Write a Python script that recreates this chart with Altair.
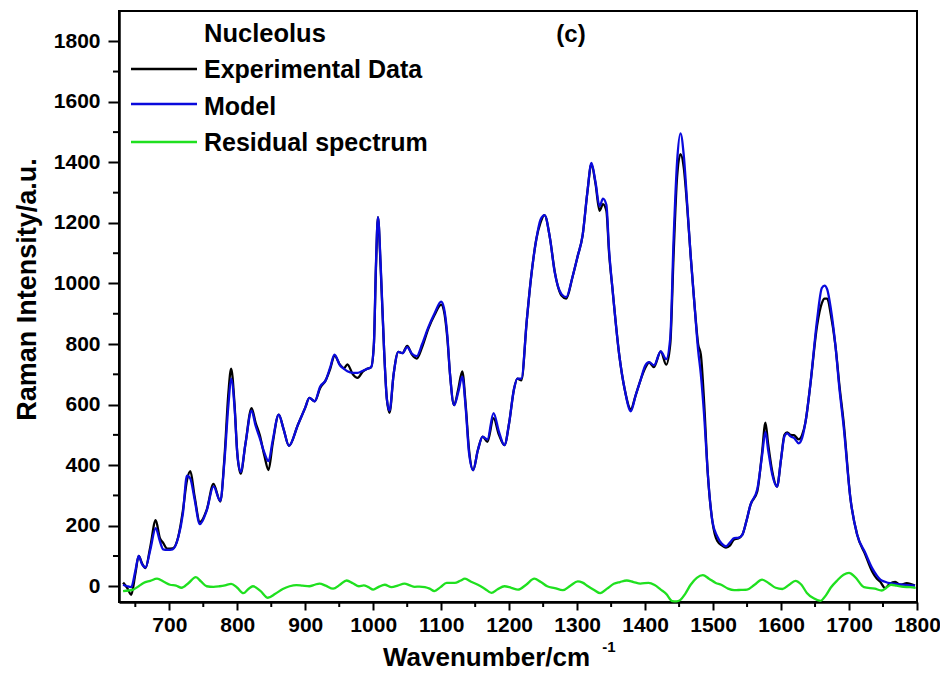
import altair as alt
import pandas as pd

# ---- data ----
wn = [632, 638, 644, 650, 655, 660, 665, 672, 680, 686, 691, 697, 705, 713, 720, 726, 731, 737, 745,
      755, 765, 775, 781, 787, 791, 796, 800, 805, 812, 821, 827, 833, 840, 846, 852, 861, 868, 876,
      889, 900, 906, 914, 922, 930, 937, 943, 951, 957, 962, 970, 977, 985, 990, 997, 1001, 1004,
      1007, 1011, 1016, 1020, 1024, 1030, 1037, 1043, 1050, 1057, 1064, 1072, 1081, 1090, 1100,
      1104, 1109, 1113, 1119, 1125, 1131, 1136, 1141, 1147, 1154, 1161, 1168, 1177, 1185, 1193,
      1200, 1207, 1212, 1218, 1226, 1232, 1240, 1246, 1252, 1260, 1267, 1277, 1284, 1293, 1301,
      1308, 1315, 1321, 1327, 1333, 1338, 1343, 1347, 1352, 1362, 1370, 1379, 1386, 1394, 1400,
      1406, 1413, 1423, 1431, 1437, 1442, 1447, 1452, 1457, 1462, 1467, 1473, 1478, 1482, 1487,
      1492, 1499, 1506, 1513, 1519, 1525, 1531, 1537, 1543, 1549, 1555, 1565, 1572, 1577, 1581,
      1587, 1594, 1600, 1605, 1609, 1614, 1619, 1626, 1631, 1636, 1643, 1653, 1660, 1664, 1668,
      1673, 1680, 1686, 1692, 1702, 1712, 1724, 1734, 1741, 1746, 1753, 1760, 1768, 1775, 1785, 1797]

experimental = [12, -5, -28, 40, 100, 75, 60, 130, 218, 160, 143, 124, 125, 162, 250, 350, 380, 300, 212,
                252, 338, 280, 420, 640, 719, 600, 440, 372, 470, 588, 540, 500, 430, 384, 470, 567, 520, 464,
                532, 590, 622, 611, 655, 680, 720, 762, 732, 720, 733, 700, 688, 710, 717, 724, 800, 1050,
                1219, 1050, 780, 620, 573, 700, 774, 770, 794, 765, 752, 790, 850, 895, 930,
                910, 820, 700, 598, 650, 710, 600, 450, 384, 450, 494, 477, 555, 500, 466,
                540, 650, 686, 680, 880, 1015, 1147, 1200, 1226, 1150, 1040, 960, 950, 1020, 1092,
                1158, 1300, 1394, 1330, 1240, 1262, 1240, 1100, 982, 763, 650, 585, 630, 686, 720,
                739, 724, 776, 732, 800, 1100, 1350, 1427, 1380, 1250, 1092, 920, 800, 765, 600,
                379, 214, 150, 135, 128, 135, 155, 158, 170, 215, 269, 313, 440, 540, 470,
                380, 329, 420, 500, 508, 500, 499, 485, 500, 543, 664, 861, 935, 950, 950,
                900, 795, 660, 543, 291, 170, 104, 49, 25, 15, -6, 8, 14, 5, 10, 2]

model = [5, 0, -3, 50, 100, 72, 62, 120, 192, 150, 122, 120, 122, 160, 240, 365, 355, 290, 205,
         250, 330, 282, 410, 600, 686, 590, 440, 378, 470, 580, 530, 490, 440, 413, 480, 567, 520, 464,
         532, 590, 622, 611, 660, 680, 725, 765, 730, 718, 710, 705, 705, 712, 717, 724, 800, 1060,
         1219, 1060, 780, 620, 580, 700, 774, 770, 790, 768, 760, 800, 855, 900, 940,
         920, 830, 700, 598, 640, 692, 590, 440, 384, 450, 494, 485, 572, 510, 466,
         540, 650, 686, 686, 880, 1015, 1147, 1210, 1226, 1150, 1037, 965, 955, 1020, 1092,
         1158, 1300, 1398, 1335, 1255, 1280, 1260, 1110, 982, 763, 650, 578, 630, 686, 728,
         740, 730, 776, 750, 820, 1150, 1400, 1496, 1420, 1260, 1092, 920, 780, 700, 560,
         379, 214, 165, 140, 132, 145, 159, 160, 170, 215, 269, 320, 430, 510, 450,
         370, 329, 420, 495, 505, 495, 490, 472, 490, 543, 664, 880, 985, 993, 980,
         920, 795, 650, 530, 291, 170, 110, 60, 35, 22, 15, 10, 8, 6, 4, 2]

res_wn = [632, 640, 647, 655, 662, 672, 682, 692, 701, 710, 718, 728, 739, 747, 755, 765, 774, 782, 791,
          800, 809, 816, 823, 834, 845, 856, 867, 877, 887, 896, 906, 914, 921, 930, 941, 951, 961, 970,
          979, 986, 993, 1000, 1008, 1017, 1027, 1036, 1046, 1054, 1061, 1068, 1076, 1083, 1090, 1099,
          1108, 1120, 1128, 1135, 1144, 1154, 1164, 1174, 1183, 1193, 1203, 1213, 1225, 1237, 1246,
          1256, 1267, 1279, 1290, 1301, 1308, 1316, 1325, 1334, 1344, 1354, 1363, 1373, 1383, 1393,
          1405, 1414, 1423, 1431, 1440, 1446, 1452, 1459, 1467, 1476, 1485, 1494, 1504, 1512, 1522,
          1531, 1541, 1550, 1561, 1572, 1582, 1592, 1602, 1612, 1621, 1630, 1638, 1648, 1658, 1666,
          1673, 1683, 1692, 1700, 1709, 1722, 1738, 1748, 1755, 1762, 1770, 1780, 1790, 1798]
residual = [-16, -14, -11, 0, 11, 18, 25, 15, 5, 2, -5, 10, 30, 15, 0, -2, 0, 3, 8,
            -5, -23, -10, 0, -15, -38, -25, -9, 0, 4, 2, 0, 5, 9, 2, -8, 5, 19, 10,
            0, 3, -3, -11, -2, 5, -3, 2, 9, 3, -2, -1, -3, -8, -16, -3,
            11, 11, 18, 25, 15, 5, -8, -22, -10, 0, -5, -11, 5, 25, 15,
            0, -6, -13, 2, 16, 12, 0, -12, -23, -8, 8, 14, 19, 14, 9,
            11, 4, -11, -25, -49, -50, -45, -25, 5, 28, 37, 25, 11, 5, -8,
            -13, -12, -11, 5, 22, 10, -5, -9, 5, 18, 5, -22, -40, -48, -30,
            -5, 20, 38, 44, 30, -3, -8, -14, -5, 5, 2, -2, -3, -5]

series_names = ["Experimental Data", "Model", "Residual spectrum"]
series_colors = ["#000000", "#0a0adc", "#1fe01f"]
x_ticks = [700, 800, 900, 1000, 1100, 1200, 1300, 1400, 1500, 1600, 1700, 1800]
x_minor = [650, 750, 850, 950, 1050, 1150, 1250, 1350, 1450, 1550, 1650, 1750]
y_ticks = [0, 200, 400, 600, 800, 1000, 1200, 1400, 1600, 1800]
y_minor = [100, 300, 500, 700, 900, 1100, 1300, 1500, 1700]

FONT = "Liberation Sans"
W, H = 798, 591

df = pd.concat([
    pd.DataFrame({"wn": wn, "val": experimental, "series": series_names[0]}),
    pd.DataFrame({"wn": wn, "val": model, "series": series_names[1]}),
    pd.DataFrame({"wn": res_wn, "val": residual, "series": series_names[2]}),
], ignore_index=True)

xscale = alt.Scale(domain=[626, 1800], nice=False, zero=False)
yscale = alt.Scale(domain=[-52, 1900], nice=False, zero=False)
cscale = alt.Scale(domain=series_names, range=series_colors)

xaxis = alt.Axis(values=x_ticks, title="Wavenumber/cm", grid=False, tickSize=8, tickWidth=2,
                 labelPadding=4, labelFontSize=21, labelFontWeight="bold", labelFont=FONT,
                 labelFlush=False, labelOverlap=False, domainWidth=2.5, domainColor="black",
                 tickColor="black", labelColor="black",
                 titleFontSize=26, titleFontWeight="bold", titleFont=FONT, titleColor="black",
                 titleX=367, titleY=55, titleAlign="center", titleBaseline="middle",
                 format="d")
yaxis = alt.Axis(values=y_ticks, title="Raman Intensity/a.u.", grid=False, tickSize=11, tickWidth=2,
                 labelPadding=8, labelFontSize=21, labelFontWeight="bold", labelFont=FONT,
                 labelOverlap=False, domainWidth=2.5, domainColor="black",
                 tickColor="black", labelColor="black",
                 titleFontSize=27, titleFontWeight="bold", titleFont=FONT, titleColor="black",
                 titleX=-92, titleY=278, titleAngle=270, titleAlign="center", titleBaseline="middle",
                 format="d")

base = alt.Chart(df)
lines = []
for i, name in enumerate(series_names):
    xenc = alt.X("wn:Q", scale=xscale, axis=xaxis) if i == 0 else alt.X("wn:Q")
    yenc = alt.Y("val:Q", scale=yscale, axis=yaxis) if i == 0 else alt.Y("val:Q")
    lines.append(
        base.transform_filter(alt.datum.series == name)
        .mark_line(strokeWidth=2.3, interpolate="monotone")
        .encode(x=xenc, y=yenc, color=alt.Color("series:N", scale=cscale, legend=None))
    )

xminor = alt.Chart(pd.DataFrame({"wn": x_minor})).mark_rule(color="black", strokeWidth=2).encode(
    x=alt.X("wn:Q"), y=alt.value(H), y2=alt.value(H + 5))
yminor = alt.Chart(pd.DataFrame({"val": y_minor})).mark_rule(color="black", strokeWidth=2).encode(
    y=alt.Y("val:Q"), x=alt.value(0), x2=alt.value(-6))

one = pd.DataFrame({"k": [0]})
def txt(s, x, y, size, align="left", baseline="alphabetic"):
    return alt.Chart(one).mark_text(text=s, font=FONT, fontSize=size, fontWeight="bold", color="black",
                                    align=align, baseline=baseline).encode(x=alt.value(x), y=alt.value(y))
def legline(color, y):
    return alt.Chart(one).mark_rule(color=color, strokeWidth=2.3).encode(
        x=alt.value(12), x2=alt.value(78), y=alt.value(y))

annos = [
    txt("Nucleolus", 85, 31, 25.5),
    txt("(c)", 452, 31, 24, align="center"),
    legline(series_colors[0], 58), txt(series_names[0], 85, 67, 25),
    legline(series_colors[1], 93), txt(series_names[1], 85, 104, 25),
    legline(series_colors[2], 131), txt(series_names[2], 85, 140, 25),
    txt("-1", 490, 636, 15, align="center", baseline="middle"),
]

chart = alt.layer(*lines, xminor, yminor, *annos).properties(
    width=W, height=H,
    background="white",
    autosize=alt.AutoSizeParams(type="none"),
    padding={"left": 111, "top": 3, "right": 23, "bottom": 71},
).configure_view(stroke="black", strokeWidth=2)

chart.save("out.html", embed_options={"renderer": "svg", "actions": False})
